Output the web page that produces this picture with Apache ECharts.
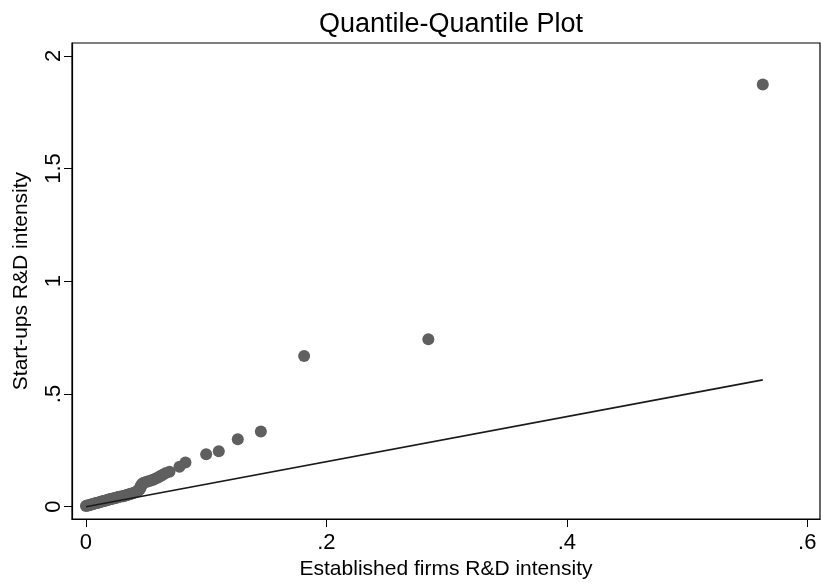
<!DOCTYPE html>
<html>
<head>
<meta charset="utf-8">
<script src="https://cdn.jsdelivr.net/npm/echarts@6/dist/echarts.min.js"></script>
<style>
  html, body { margin: 0; padding: 0; background: #fff; }
  #qq_plot { width: 821px; height: 585px; }
</style>
</head>
<body>
<div id="qq_plot"></div>
<script>
  // quantiles of established firms (x) vs start-ups (y)
  var estQuantiles = [0.000, 0.001, 0.002, 0.003, 0.004, 0.005, 0.006, 0.007, 0.008, 0.009,
    0.010, 0.011, 0.012, 0.013, 0.014, 0.015, 0.016, 0.017, 0.018, 0.019,
    0.020, 0.021, 0.022, 0.023, 0.024, 0.025, 0.026, 0.027, 0.028, 0.030,
    0.031, 0.032, 0.033, 0.034, 0.035, 0.036, 0.037, 0.038, 0.040, 0.041,
    0.042, 0.043, 0.044, 0.045, 0.045, 0.046, 0.046, 0.047, 0.048, 0.050,
    0.052, 0.054, 0.056, 0.058, 0.060, 0.062, 0.064, 0.066, 0.0695, 0.0778,
    0.0828, 0.100, 0.1105, 0.1263, 0.1455, 0.1815, 0.2848, 0.563];
  var startupQuantiles = [0.003, 0.005, 0.006, 0.008, 0.009, 0.011, 0.012, 0.014, 0.015, 0.017,
    0.018, 0.020, 0.021, 0.023, 0.024, 0.026, 0.027, 0.029, 0.030, 0.032,
    0.033, 0.035, 0.036, 0.037, 0.039, 0.040, 0.041, 0.043, 0.044, 0.046,
    0.047, 0.049, 0.050, 0.052, 0.053, 0.055, 0.057, 0.059, 0.062, 0.064,
    0.067, 0.070, 0.074, 0.079, 0.085, 0.091, 0.097, 0.102, 0.106, 0.110,
    0.113, 0.116, 0.120, 0.125, 0.130, 0.136, 0.142, 0.148, 0.155, 0.177,
    0.196, 0.233, 0.246, 0.299, 0.334, 0.668, 0.743, 1.873];

  // 45 degree reference line, from min to max of x
  var refLineX = [0, 0.563];
  var refLineY = [0, 0.563];

  var xTicks = [0, 0.2, 0.4, 0.6];
  var yTicks = [0, 0.5, 1, 1.5, 2];

  function stataLabel(v) {
    var s = String(Math.round(v * 10) / 10);
    return s.replace(/^0\./, '.');
  }

  var points = estQuantiles.map(function (x, i) { return [x, startupQuantiles[i]]; });
  var refLine = refLineX.map(function (x, i) { return [x, refLineY[i]]; });

  var font = "'Liberation Sans', Arial, Helvetica, sans-serif";

  var chart = echarts.init(document.getElementById('qq_plot'));
  chart.setOption({
    animation: false,
    textStyle: { fontFamily: font },
    title: {
      text: 'Quantile-Quantile Plot',
      left: 446,
      top: 6,
      textAlign: 'center',
      textStyle: { fontFamily: font, fontSize: 27, fontWeight: 'normal', color: '#000' }
    },
    grid: {
      left: 72,
      right: 1,
      top: 43,
      bottom: 64,
      show: true,
      borderColor: '#000',
      borderWidth: 1.2,
      backgroundColor: '#fff'
    },
    xAxis: {
      type: 'value',
      min: -0.0116,
      max: 0.6106,
      name: 'Established firms R&D intensity',
      nameLocation: 'middle',
      nameGap: 38,
      nameTextStyle: { fontFamily: font, fontSize: 21, color: '#000' },
      axisLine: { show: true, onZero: false, lineStyle: { color: '#000', width: 1.2 } },
      axisTick: { show: true, length: 8, customValues: xTicks, lineStyle: { color: '#000' } },
      axisLabel: {
        customValues: xTicks,
        formatter: stataLabel,
        margin: 13,
        fontFamily: font,
        fontSize: 22,
        color: '#000'
      },
      splitLine: { show: false }
    },
    yAxis: {
      type: 'value',
      min: -0.0548,
      max: 2.0566,
      name: 'Start-ups R&D intensity',
      nameLocation: 'middle',
      nameRotate: 90,
      nameGap: 40,
      nameTextStyle: { fontFamily: font, fontSize: 21, color: '#000' },
      axisLine: { show: true, onZero: false, lineStyle: { color: '#000', width: 1.2 } },
      axisTick: { show: true, length: 8, customValues: yTicks, lineStyle: { color: '#000' } },
      axisLabel: {
        customValues: yTicks,
        formatter: stataLabel,
        rotate: 90,
        margin: 7,
        fontFamily: font,
        fontSize: 22,
        color: '#000'
      },
      splitLine: { show: false }
    },
    series: [
      {
        name: 'quantiles',
        type: 'scatter',
        symbol: 'circle',
        symbolSize: 12,
        itemStyle: { color: '#5f5f5f', opacity: 1 },
        data: points,
        z: 2
      },
      {
        name: 'reference',
        type: 'line',
        showSymbol: false,
        symbol: 'none',
        lineStyle: { color: '#1a1a1a', width: 1.7 },
        data: refLine,
        z: 3
      }
    ]
  });
</script>
</body>
</html>
